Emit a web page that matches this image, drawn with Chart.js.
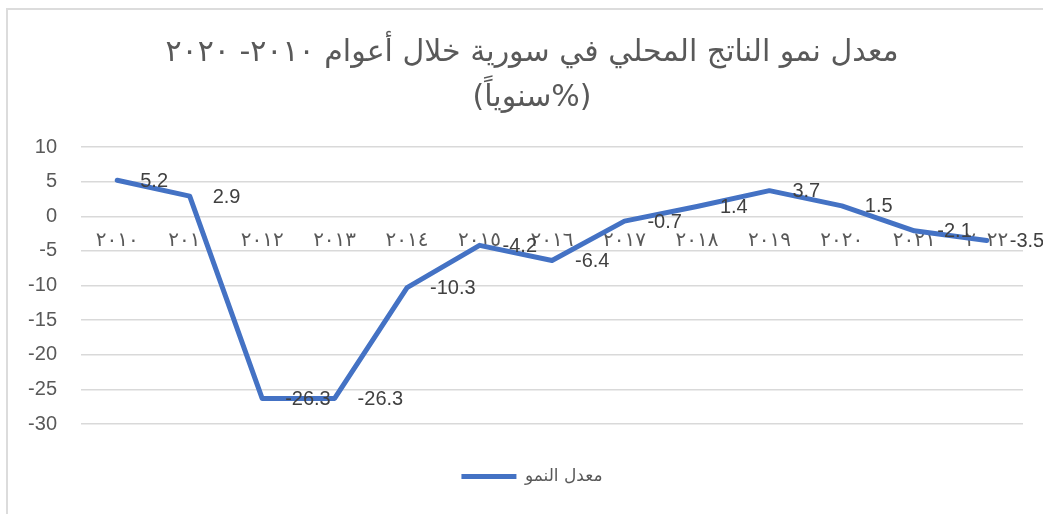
<!DOCTYPE html>
<html lang="ar">
<head>
    <meta charset="UTF-8">
    <title>معدل نمو الناتج المحلي</title>
    <script src="https://cdn.jsdelivr.net/npm/chart.js"></script>
    <style>
        body { margin: 0; background: #fff; }
        .wrap { position: relative; width: 1043px; height: 514px; overflow: hidden; }
        .frame {
            position: absolute; left: 6px; top: 8px;
            width: 1100px; height: 600px;
            border: 2px solid #dcdcdc;
        }
        #chart { position: absolute; left: 0; top: 0; }
    </style>
</head>
<body>
    <div class="wrap">
        <div class="frame"></div>
        <canvas id="chart" width="1043" height="514"></canvas>
    </div>
    <script>
        // data
        const years = ['٢٠١٠', '٢٠١١', '٢٠١٢', '٢٠١٣', '٢٠١٤', '٢٠١٥', '٢٠١٦',
                       '٢٠١٧', '٢٠١٨', '٢٠١٩', '٢٠٢٠', '٢٠٢١', '٢٠٢٢'];
        const growth = [5.2, 2.9, -26.3, -26.3, -10.3, -4.2, -6.4, -0.7, 1.4, 3.7, 1.5, -2.1, -3.5];
        const seriesName = 'معدل النمو';
        const titleLines = ['معدل نمو الناتج المحلي في سورية خلال أعوام ٢٠١٠- ٢٠٢٠', '(سنوياً%)'];
        const yMin = -30, yMax = 10, yStep = 5;
        const labelRow = -5; // year labels sit on this gridline

        const grey = '#595959';
        const blue = '#4472C4';
        const numFont = 'Liberation Sans';

        // year labels, drawn under the line
        const yearLabels = {
            id: 'yearLabels',
            beforeDatasetsDraw(chart) {
                const ctx = chart.ctx;
                const xs = chart.scales.x, ys = chart.scales.y;
                const y = ys.getPixelForValue(labelRow);
                ctx.save();
                ctx.fillStyle = grey;
                ctx.font = '20px DejaVu Sans';
                ctx.textAlign = 'center';
                ctx.textBaseline = 'bottom';
                years.forEach((t, i) => ctx.fillText(t, xs.getPixelForValue(i), y));
                ctx.restore();
            }
        };

        // value labels to the right of each point
        const valueLabels = {
            id: 'valueLabels',
            afterDatasetsDraw(chart) {
                const ctx = chart.ctx;
                const meta = chart.getDatasetMeta(0);
                ctx.save();
                ctx.fillStyle = '#404040';
                ctx.font = '20px ' + numFont;
                ctx.textAlign = 'left';
                ctx.textBaseline = 'middle';
                meta.data.forEach((pt, i) => {
                    ctx.fillText(growth[i].toFixed(1), pt.x + 23, pt.y + 1);
                });
                ctx.restore();
            }
        };

        new Chart(document.getElementById('chart'), {
            type: 'line',
            data: {
                labels: years,
                datasets: [{
                    label: seriesName,
                    data: growth,
                    borderColor: blue,
                    backgroundColor: blue,
                    borderWidth: 5,
                    borderCapStyle: 'round',
                    borderJoinStyle: 'round',
                    pointRadius: 0,
                    tension: 0
                }]
            },
            options: {
                responsive: false,
                animation: false,
                layout: { padding: { left: 21, right: 0, top: 0, bottom: 19 } },
                plugins: {
                    title: {
                        display: true,
                        text: titleLines,
                        color: grey,
                        font: { family: 'DejaVu Sans', size: 30, weight: 'normal', lineHeight: 1.5 },
                        padding: { top: 31, bottom: 26 }
                    },
                    legend: {
                        position: 'bottom',
                        labels: {
                            usePointStyle: true,
                            pointStyle: 'line',
                            pointStyleWidth: 55,
                            color: grey,
                            font: { family: 'DejaVu Sans', size: 17 },
                            padding: 10
                        }
                    },
                    tooltip: { enabled: false }
                },
                scales: {
                    x: {
                        offset: true,
                        grid: { display: false },
                        border: { display: false },
                        ticks: { display: false },
                        afterFit: s => { s.height = 34; }
                    },
                    y: {
                        min: yMin,
                        max: yMax,
                        ticks: {
                            stepSize: yStep,
                            padding: 24,
                            color: grey,
                            font: { family: numFont, size: 20 }
                        },
                        grid: { color: '#d9d9d9', lineWidth: 1.5, drawTicks: false },
                        border: { display: false },
                        afterFit: s => { s.width = 60; }
                    },
                    // empty right gutter so the plot stops where the reference's does
                    gutter: {
                        position: 'right',
                        min: yMin,
                        max: yMax,
                        grid: { display: false },
                        border: { display: false },
                        ticks: { display: false },
                        afterFit: s => { s.width = 20; }
                    }
                }
            },
            plugins: [yearLabels, valueLabels]
        });
    </script>
</body>
</html>
